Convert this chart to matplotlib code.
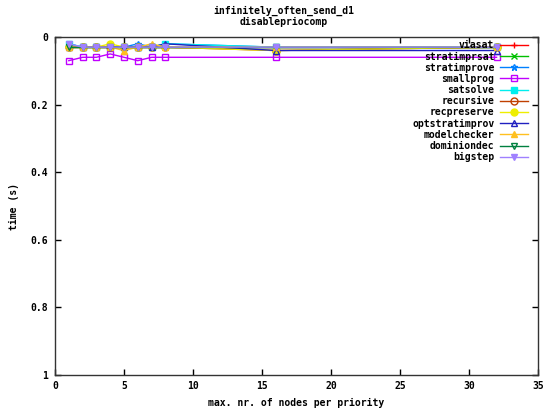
import matplotlib
matplotlib.use('Agg')
import matplotlib.pyplot as plt

# x positions: max. nr. of nodes per priority
nodes = [1, 2, 3, 4, 5, 6, 7, 8, 16, 32]

# times (s)
viasat         = [0.03, 0.03, 0.03, 0.03, 0.03, 0.03, 0.03, 0.03, 0.03, 0.03]
stratimprsat   = [0.03, 0.03, 0.03, 0.03, 0.03, 0.03, 0.03, 0.03, 0.03, 0.03]
stratimprove   = [0.02, 0.03, 0.03, 0.03, 0.03, 0.02, 0.03, 0.02, 0.03, 0.03]
smallprog      = [0.07, 0.06, 0.06, 0.05, 0.06, 0.07, 0.06, 0.06, 0.06, 0.06]
satsolve       = [0.02, 0.03, 0.03, 0.03, 0.03, 0.03, 0.03, 0.02, 0.03, 0.03]
recursive      = [0.03, 0.03, 0.03, 0.03, 0.03, 0.03, 0.03, 0.03, 0.04, 0.03]
recpreserve    = [0.03, 0.03, 0.03, 0.02, 0.03, 0.03, 0.03, 0.03, 0.04, 0.03]
optstratimprov = [0.03, 0.03, 0.03, 0.03, 0.03, 0.03, 0.03, 0.02, 0.04, 0.04]
modelchecker   = [0.03, 0.03, 0.03, 0.03, 0.04, 0.03, 0.02, 0.03, 0.03, 0.03]
dominiondec    = [0.03, 0.03, 0.03, 0.03, 0.03, 0.03, 0.03, 0.03, 0.03, 0.03]
bigstep        = [0.02, 0.03, 0.03, 0.03, 0.03, 0.03, 0.03, 0.03, 0.03, 0.03]

series = [
	('viasat', viasat, '#ff0000', '+', 'none'),
	('stratimprsat', stratimprsat, '#00c000', 'x', 'none'),
	('stratimprove', stratimprove, '#0080ff', '*', 'none'),
	('smallprog', smallprog, '#c000ff', 's', 'none'),
	('satsolve', satsolve, '#00eeee', 's', 'full'),
	('recursive', recursive, '#c04000', 'o', 'none'),
	('recpreserve', recpreserve, '#eeee00', 'o', 'full'),
	('optstratimprov', optstratimprov, '#2020c0', '^', 'none'),
	('modelchecker', modelchecker, '#ffc020', '^', 'full'),
	('dominiondec', dominiondec, '#008040', 'v', 'none'),
	('bigstep', bigstep, '#a080ff', 'v', 'full'),
]

plt.rcParams['font.family'] = ['DejaVu Sans Mono']
plt.rcParams['font.weight'] = 'bold'
plt.rcParams['axes.labelweight'] = 'bold'
plt.rcParams['font.size'] = 7

fig = plt.figure(figsize=(5.45, 4.15), dpi=100)
ax = fig.add_axes([0.1009, 0.0964, 0.8862, 0.8144])

for name, vals, col, mk, fill in series:
	ax.plot(nodes, vals, color=col, marker=mk, markersize=5, linewidth=1,
		fillstyle=fill, markerfacecolor=col if fill == 'full' else 'none',
		markeredgewidth=1, label=name)

ax.set_xlim(0, 35)
ax.set_ylim(1, 0)
ax.set_xticks(range(0, 36, 5))
ax.set_yticks([0, 0.2, 0.4, 0.6, 0.8, 1])
ax.set_yticklabels(['0', '0.2', '0.4', '0.6', '0.8', '1'])
ax.tick_params(direction='in', top=True, right=True, length=4, width=1)
ax.tick_params(axis='x', pad=4)
ax.tick_params(axis='y', pad=5)
for s in ax.spines.values():
	s.set_linewidth(1)
	s.set_color('#333333')

ax.set_xlabel('max. nr. of nodes per priority', labelpad=5)
ax.set_ylabel('time (s)', labelpad=8)

fig.text(0.52, 0.985, 'infinitely_often_send_d1\ndisablepriocomp', ha='center', va='top', linespacing=1.1)

# gnuplot-style key: label first, sample on the right
leg = ax.legend(loc='upper right', bbox_to_anchor=(0.984, 0.996), markerfirst=False,
	frameon=False, handlelength=2.9, handletextpad=0.6, labelspacing=0.12,
	borderaxespad=0, borderpad=0.2)

fig.savefig('out.png', dpi=100)
